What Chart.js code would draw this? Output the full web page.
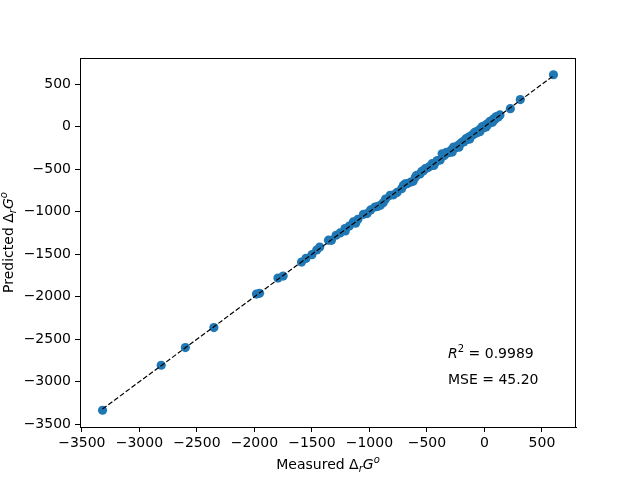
<!DOCTYPE html>
<html>
<head>
<meta charset="utf-8">
<script src="https://cdn.jsdelivr.net/npm/chart.js@4/dist/chart.umd.min.js"></script>
<style>
html,body{margin:0;padding:0;background:#fff;}
#wrap{width:640px;height:480px;}
</style>
</head>
<body>
<div id="wrap"><canvas id="c" width="640" height="480"></canvas></div>
<script>
// Measured vs predicted values
const measured = [
  -3320, -2810, -2600, -2352, -1982, -1955, -1795, -1750, -1590, -1552,
  -1500, -1458, -1432, -1356, -1330, -1290, -1255, -1212, -1175, -1140,
  -1100, -1052, -1020, -952, -930, -905, -860, -820, -790, -760,
  -720, -690, -672, -640, -600, -590, -560, -530, -515, -490,
  -470, -455, -430, -410, -385, -368, -352, -330, -310, -290,
  -268, -250, -232, -210, -195, -180, -165, -150, -138, -122,
  -110, -95, -80, -70, -58, -45, -35, -22, -12, -5,
  3, 10, 18, 26, 35, 42, 50, 58, 66, 75,
  82, 90, 98, 105, 112, 120, 128, 135, 225, 312, 600,
  -1210, -1120, -990, -880, -705, -620, -545, -440, -345, -280,
  -222, -160, -128, -88, -40, -18, 14, 48, 70, 100
];
const predicted = [
  -3335, -2806, -2598, -2362, -1968, -1960, -1780, -1757, -1592, -1549,
  -1505, -1450, -1415, -1334, -1336, -1276, -1249, -1197, -1168, -1120,
  -1088, -1030, -1021, -944, -938, -924, -850, -806, -800, -772,
  -728, -672, -669, -650, -592, -572, -555, -517, -493, -480,
  -462, -434, -425, -398, -392, -317, -340, -300, -305, -275,
  -239, -248, -222, -200, -181, -178, -152, -150, -122, -118,
  -100, -92, -63, -72, -50, -40, -25, -20, -5, -10,
  10, 5, 28, 20, 40, 46, 54, 55, 75, 70,
  94, 85, 100, 110, 118, 115, 133, 140, 213, 320, 612,
  -1225, -1135, -978, -895, -690, -640, -525, -455, -330, -298,
  -240, -140, -145, -70, -58, 2, -2, 65, 52, 118
];
const xTicks = [-3500, -3000, -2500, -2000, -1500, -1000, -500, 0, 500];
const yTicks = [-3500, -3000, -2500, -2000, -1500, -1000, -500, 0, 500];

const pts = measured.map((m, i) => ({x: m, y: predicted[i]}));
const lo = Math.min(...measured), hi = Math.max(...measured);
function padRange(arr){ const a=Math.min(...arr), b=Math.max(...arr), r=b-a; return [a-0.05*r, b+0.05*r]; }
const [xMin, xMax] = padRange(measured);
const [yMin, yMax] = padRange(predicted);

const FONT = "'DejaVu Sans', sans-serif";
const minus = v => String(v).replace('-', '\u2212');

const frame = {
  id: 'frame',
  afterDatasetsDraw(chart){
    const {ctx, chartArea:a} = chart;
    ctx.save();
    ctx.strokeStyle = '#000'; ctx.lineWidth = 1;
    ctx.strokeRect(Math.round(a.left)+0.5, Math.round(a.top)+0.5, Math.round(a.right-a.left)-1, Math.round(a.bottom-a.top));
    ctx.restore();
  },
  afterDraw(chart){
    const {ctx, chartArea:a} = chart;
    ctx.save();
    ctx.fillStyle = '#000';
    ctx.textBaseline = 'alphabetic';
    function runs(list, x, y, measureOnly){
      let cx = x;
      for (const r of list){
        ctx.font = (r.it ? 'italic ' : '') + (r.size||14) + 'px ' + FONT;
        if (!measureOnly) ctx.fillText(r.t, cx, y + (r.dy||0));
        cx += ctx.measureText(r.t).width;
      }
      return cx - x;
    }
    const axLabel = [
      {t:'Measured '},{t:'\u0394'},{t:'r', it:true, size:10, dy:3},{t:'G', it:true},{t:'o', it:true, size:10, dy:-6}
    ];
    const w = runs(axLabel, 0, 0, true);
    const cxm = (a.left + a.right)/2;
    runs(axLabel, cxm - w/2, 469, false);
    const yLabel = [
      {t:'Predicted '},{t:'\u0394'},{t:'r', it:true, size:10, dy:3},{t:'G', it:true},{t:'o', it:true, size:10, dy:-6}
    ];
    const wy = runs(yLabel, 0, 0, true);
    ctx.save();
    ctx.translate(13, (a.top + a.bottom)/2);
    ctx.rotate(-Math.PI/2);
    runs(yLabel, -wy/2, 0, false);
    ctx.restore();
    runs([{t:'R', it:true},{t:'2', size:10, dy:-6},{t:' = 0.9989'}], 448, 358, false);
    runs([{t:'MSE = 45.20'}], 448, 384, false);
    ctx.restore();
  }
};

function setTicks(list){
  return function(scale){ scale.ticks = list.map(v => ({value: v})); };
}

new Chart(document.getElementById('c'), {
  data: {
    datasets: [
      {
        type: 'line',
        data: [{x: lo, y: lo}, {x: hi, y: hi}],
        borderColor: '#000',
        borderWidth: 1.2,
        borderDash: [5, 2.2],
        pointRadius: 0,
        fill: false,
        order: 0
      },
      {
        type: 'scatter',
        data: pts,
        backgroundColor: '#1f77b4',
        borderColor: '#1f77b4',
        borderWidth: 0,
        pointRadius: 4.6,
        pointHoverRadius: 4.6,
        order: 1
      }
    ]
  },
  options: {
    responsive: false,
    animation: false,
    events: [],
    layout: {padding: {top: 58, right: 64, left: 0, bottom: 0}},
    plugins: {legend: {display: false}, tooltip: {enabled: false}},
    scales: {
      x: {
        type: 'linear',
        min: xMin, max: xMax,
        afterBuildTicks: setTicks(xTicks),
        afterFit(s){ s.height = 53; },
        border: {display: true, color: '#000', width: 1},
        grid: {drawOnChartArea: false, drawTicks: true, tickLength: 5, color: '#000', tickWidth: 1},
        ticks: {autoSkip: false, color: '#000', padding: 3, maxRotation: 0,
                font: {family: FONT, size: 14}, callback: v => minus(v)}
      },
      y: {
        type: 'linear',
        min: yMin, max: yMax,
        afterBuildTicks: setTicks(yTicks),
        afterFit(s){ s.width = 80; },
        border: {display: true, color: '#000', width: 1},
        grid: {drawOnChartArea: false, drawTicks: true, tickLength: 5, color: '#000', tickWidth: 1},
        ticks: {autoSkip: false, color: '#000', padding: 4,
                font: {family: FONT, size: 14}, callback: v => minus(v)}
      }
    }
  },
  plugins: [frame]
});
</script>
</body>
</html>
